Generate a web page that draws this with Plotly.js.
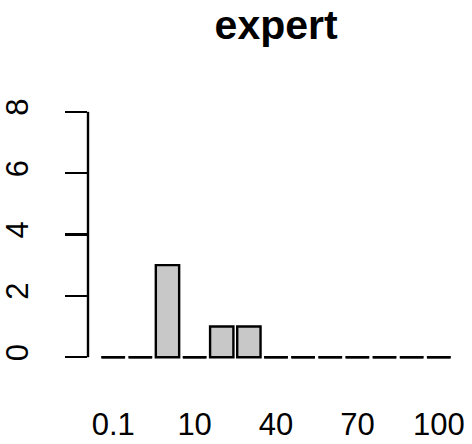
<!DOCTYPE html>
<html>
<head>
<meta charset="utf-8">
<script src="https://cdn.plot.ly/plotly-3.0.1.min.js"></script>
<style>html,body{margin:0;padding:0;background:#fff;}#chart{width:472px;height:444px;}</style>
</head>
<body>
<div id="chart"></div>
<script>
const categories = ["0.1","1","5","10","20","30","40","50","60","70","80","90","100"];
const counts = [0,0,3,0,1,1,0,0,0,0,0,0,0];
const shownTickLabels = ["0.1","10","40","70","100"];
const yTicks = [0,2,4,6,8];

const zeroCats = categories.filter((c,i)=>counts[i]===0);
const zeroVals = zeroCats.map(()=>0);

const FONT = "Liberation Sans, Arial, Helvetica, sans-serif";

const data = [
  {
    type: "bar",
    x: categories,
    y: counts,
    marker: {color: "#c8c8c8", line: {color: "#000", width: 2.4}},
    hoverinfo: "x+y"
  },
  {
    type: "scatter",
    mode: "markers",
    x: zeroCats,
    y: zeroVals,
    marker: {symbol: "line-ew", size: 17, line: {color: "#000", width: 2.4}},
    hoverinfo: "skip",
    cliponaxis: false
  }
];

const layout = {
  width: 472, height: 444,
  margin: {l: 88, r: 8, t: 102, b: 77},
  paper_bgcolor: "#fff", plot_bgcolor: "#fff",
  showlegend: false,
  bargap: 0.14,
  title: {
    text: "<b>expert</b>",
    font: {family: FONT, size: 41, color: "#000"},
    x: 0.585, xanchor: "center",
    y: 1 - 25/444, yanchor: "middle", yref: "container"
  },
  xaxis: {
    type: "category",
    categoryorder: "array", categoryarray: categories,
    range: [-0.93, 12.93],
    tickmode: "array", tickvals: shownTickLabels, ticktext: shownTickLabels,
    ticks: "", showline: false, showgrid: false, zeroline: false,
    tickfont: {family: FONT, size: 31, color: "#000"},
    ticklabelstandoff: 36
  },
  yaxis: {
    range: [-0.32, 8.32],
    tickmode: "array", tickvals: yTicks, ticktext: yTicks.map(String),
    ticks: "outside", ticklen: 22, tickwidth: 2.4, tickcolor: "#000",
    showline: false, showgrid: false, zeroline: false,
    tickangle: -90,
    tickfont: {family: FONT, size: 31, color: "#000"},
    ticklabelstandoff: 25
  },
  shapes: [
    {type: "line", xref: "paper", yref: "y", x0: 0, x1: 0, y0: 0, y1: 8,
     line: {color: "#000", width: 2.4}}
  ]
};

Plotly.newPlot("chart", data, layout, {staticPlot: true, displayModeBar: false});
</script>
</body>
</html>
